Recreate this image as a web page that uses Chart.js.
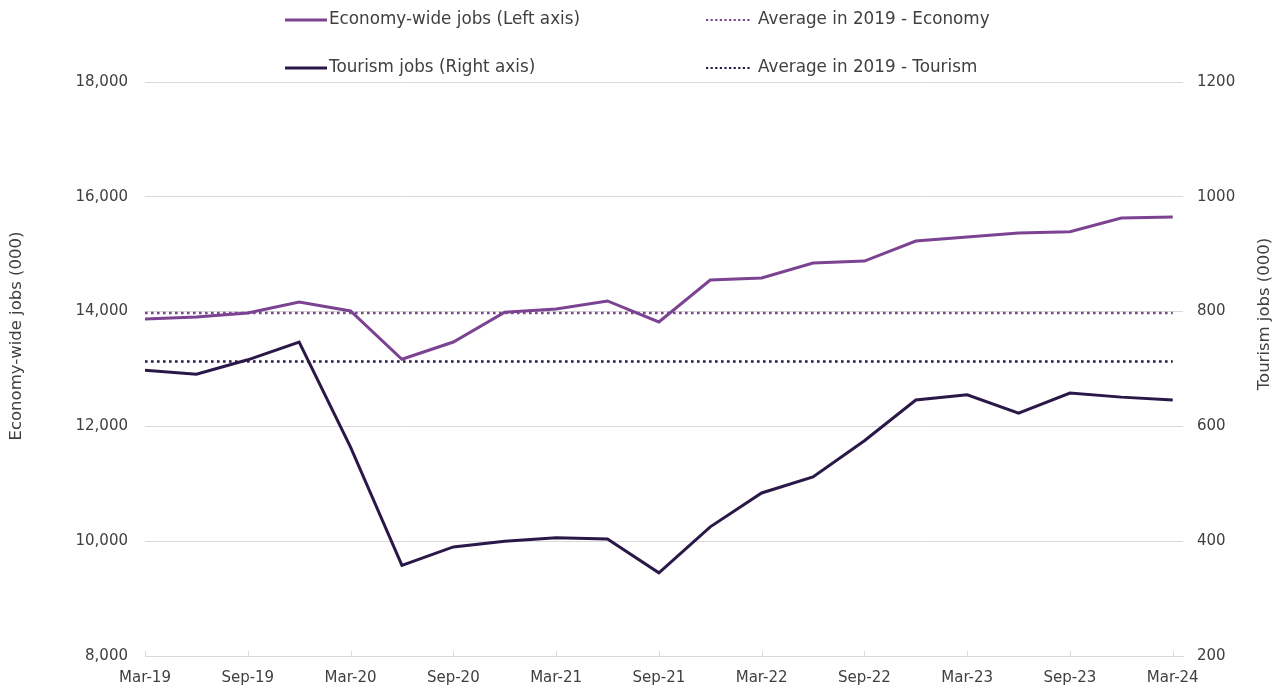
<!DOCTYPE html>
<html>
<head>
<meta charset="utf-8">
<script src="https://cdn.jsdelivr.net/npm/chart.js@4.4.1/dist/chart.umd.min.js"></script>
<style>
html,body{margin:0;padding:0;background:#fff;}
#wrap{width:1279px;height:689px;position:relative;}
</style>
</head>
<body>
<div id="wrap"><canvas id="c" width="1279" height="689"></canvas></div>
<script>
const quarters = ["Mar-19","Jun-19","Sep-19","Dec-19","Mar-20","Jun-20","Sep-20","Dec-20","Mar-21","Jun-21","Sep-21","Dec-21","Mar-22","Jun-22","Sep-22","Dec-22","Mar-23","Jun-23","Sep-23","Dec-23","Mar-24"];
const economyJobs = [13870,13905,13975,14165,14010,13170,13470,13990,14045,14185,13820,14550,14585,14845,14880,15230,15300,15370,15390,15630,15650];
const tourismJobs = [698,691,716,747,564,358,390,400,406,404,345,425,484,512,575,646,655,623,658,651,646];
const avgEconomy2019 = 13975;
const avgTourism2019 = 713;
const leftTicks = [8000,10000,12000,14000,16000,18000];
const rightTicks = [200,400,600,800,1000,1200];
const seriesNames = ["Economy-wide jobs (Left axis)","Average in 2019 - Economy","Tourism jobs (Right axis)","Average in 2019 - Tourism"];
const axisTitles = ["Economy-wide jobs (000)","Tourism jobs (000)"];

const PURPLE = '#7B4391';
const DARK = '#2A1848';
const GRID = '#d9d9d9';
const TXT = '#404040';
const FONT = 'DejaVu Sans';

const toXY = arr => arr.map((v,i)=>({x:i,y:v}));
const flat = v => [{x:0,y:v},{x:quarters.length-1,y:v}];

const extras = {
  id:'extras',
  afterDraw(chart){
    const ctx = chart.ctx;
    const x = chart.scales.x;
    const area = chart.chartArea;
    ctx.save();
    ctx.strokeStyle = GRID; ctx.lineWidth = 1;
    for(let i=0;i<quarters.length;i+=2){
      const px = Math.round(x.getPixelForValue(i))+0.5;
      ctx.beginPath(); ctx.moveTo(px,area.bottom); ctx.lineTo(px,area.bottom-5); ctx.stroke();
    }
    ctx.restore();
    ctx.save();
    ctx.fillStyle = TXT; ctx.font = '16.5px "'+FONT+'"';
    ctx.textAlign='center'; ctx.textBaseline='middle';
    ctx.translate(17,336); ctx.rotate(-Math.PI/2); ctx.fillText(axisTitles[0],0,0);
    ctx.restore();
    ctx.save();
    ctx.fillStyle = TXT; ctx.font = '16.5px "'+FONT+'"';
    ctx.textAlign='center'; ctx.textBaseline='middle';
    ctx.translate(1265,314); ctx.rotate(-Math.PI/2); ctx.fillText(axisTitles[1],0,0);
    ctx.restore();
    const items = [
      {t:seriesNames[0], c:PURPLE, dash:[], x0:285, x1:327, tx:329, y:20},
      {t:seriesNames[1], c:PURPLE, dash:[2.2,2.4], x0:706, x1:752, tx:758, y:20},
      {t:seriesNames[2], c:DARK, dash:[], x0:285, x1:327, tx:329, y:68},
      {t:seriesNames[3], c:DARK, dash:[2.2,2.4], x0:706, x1:752, tx:758, y:68},
    ];
    items.forEach(it=>{
      ctx.save();
      ctx.strokeStyle = it.c; ctx.lineWidth = it.dash.length?2.2:3;
      ctx.setLineDash(it.dash);
      ctx.beginPath(); ctx.moveTo(it.x0,it.y); ctx.lineTo(it.x1,it.y); ctx.stroke();
      ctx.setLineDash([]);
      ctx.fillStyle = TXT; ctx.font = '16.8px "'+FONT+'"';
      ctx.textAlign='left'; ctx.textBaseline='middle';
      ctx.fillText(it.t,it.tx,it.y);
      ctx.restore();
    });
  }
};

new Chart(document.getElementById('c'), {
  type:'line',
  data:{
    datasets:[
      {label:seriesNames[0], data:toXY(economyJobs), yAxisID:'y', borderColor:PURPLE, borderWidth:3, pointRadius:0, tension:0, order:2},
      {label:seriesNames[1], data:flat(avgEconomy2019), yAxisID:'y', borderColor:PURPLE, borderWidth:2.6, borderDash:[2.6,3.4], pointRadius:0, order:3},
      {label:seriesNames[2], data:toXY(tourismJobs), yAxisID:'y2', borderColor:DARK, borderWidth:3, pointRadius:0, tension:0, order:1},
      {label:seriesNames[3], data:flat(avgTourism2019), yAxisID:'y2', borderColor:DARK, borderWidth:2.6, borderDash:[2.6,3.4], pointRadius:0, order:4},
    ]
  },
  options:{
    responsive:false, animation:false, devicePixelRatio:1,
    layout:{padding:{top:82,bottom:0,left:0,right:0}},
    plugins:{legend:{display:false}, tooltip:{enabled:false}},
    scales:{
      x:{type:'linear', min:0, max:20.2,
        afterFit:s=>{s.height=33;},
        grid:{display:false, drawTicks:false},
        border:{display:true, color:GRID, width:1},
        ticks:{stepSize:2, includeBounds:false, autoSkip:false, maxRotation:0, padding:13,
          color:TXT, font:{family:FONT,size:15},
          callback:v=>quarters[v]}
      },
      y:{position:'left', min:leftTicks[0], max:leftTicks[leftTicks.length-1],
        afterFit:s=>{s.width=145;},
        afterBuildTicks:s=>{s.ticks=leftTicks.map(v=>({value:v}));},
        grid:{color:GRID, drawTicks:false, lineWidth:1},
        border:{display:false},
        ticks:{padding:17, color:TXT, font:{family:FONT,size:15}, callback:v=>v.toLocaleString('en-US')}
      },
      y2:{position:'right', min:rightTicks[0], max:rightTicks[rightTicks.length-1],
        afterFit:s=>{s.width=96;},
        afterBuildTicks:s=>{s.ticks=rightTicks.map(v=>({value:v}));},
        grid:{display:false, drawTicks:false},
        border:{display:false},
        ticks:{padding:14, color:TXT, font:{family:FONT,size:15}, callback:v=>String(v)}
      }
    }
  },
  plugins:[extras]
});
</script>
</body>
</html>
